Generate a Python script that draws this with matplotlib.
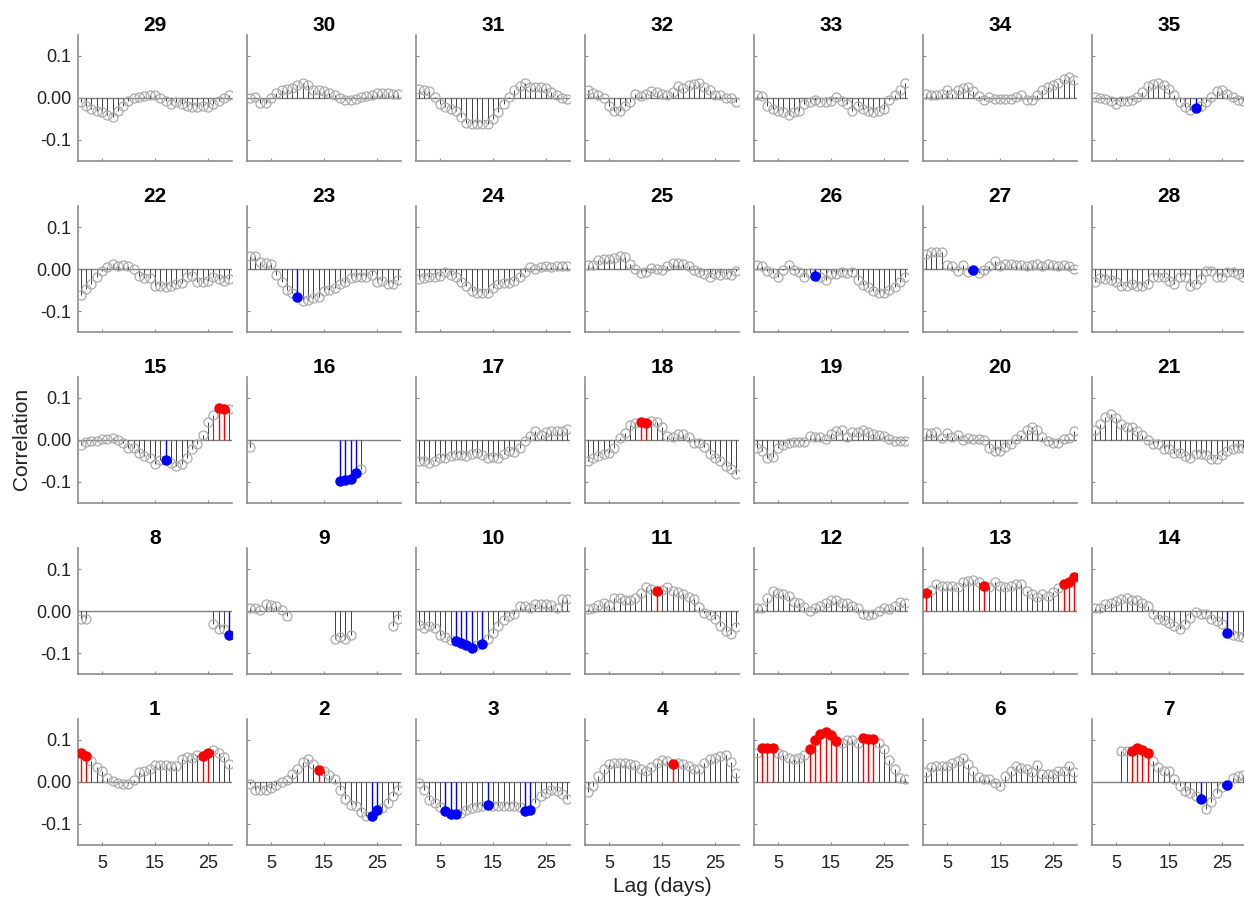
import numpy as np
import matplotlib
matplotlib.use("Agg")
import matplotlib.pyplot as plt

nan = np.nan
lags = list(range(1, 30))

# cross-correlation per panel, lags 1..29 (nan = not shown)
p1 = [0.07, 0.062, 0.05, 0.036, 0.027, 0.01, 0.002, -0.002, -0.004, -0.004, 0.004, 0.024, 0.027, 0.032, 0.04,
      0.04, 0.04, 0.037, 0.037, 0.054, 0.06, 0.056, 0.065, 0.063, 0.07, 0.076, 0.07, 0.06, 0.043]
p2 = [-0.005, -0.018, -0.018, -0.018, -0.014, -0.008, 0.0, 0.005, 0.018, 0.032, 0.047, 0.054, 0.043, 0.028, 0.027,
      0.016, 0.006, -0.02, -0.04, -0.054, -0.058, -0.072, -0.08, -0.08, -0.066, -0.062, -0.05, -0.034, -0.02]
p3 = [-0.003, -0.02, -0.042, -0.05, -0.06, -0.07, -0.077, -0.076, -0.074, -0.066, -0.062, -0.06, -0.058, -0.054,
      -0.056, -0.056, -0.057, -0.057, -0.058, -0.06, -0.068, -0.066, -0.05, -0.034, -0.026, -0.02, -0.022, -0.028, -0.04]
p4 = [-0.024, -0.01, 0.014, 0.03, 0.044, 0.046, 0.046, 0.046, 0.044, 0.04, 0.03, 0.026, 0.035, 0.046, 0.052,
      0.05, 0.042, 0.046, 0.044, 0.038, 0.032, 0.032, 0.046, 0.054, 0.058, 0.062, 0.064, 0.048, 0.022]
p5 = [0.07, 0.081, 0.081, 0.082, 0.07, 0.064, 0.058, 0.054, 0.056, 0.064, 0.078, 0.1, 0.114, 0.118, 0.112,
      0.098, 0.094, 0.1, 0.101, 0.094, 0.104, 0.102, 0.103, 0.094, 0.078, 0.052, 0.03, 0.01, 0.006]
p6 = [0.024, 0.036, 0.038, 0.038, 0.038, 0.046, 0.05, 0.058, 0.042, 0.027, 0.011, 0.008, 0.008, -0.002, -0.01,
      0.014, 0.027, 0.038, 0.034, 0.03, 0.024, 0.04, 0.018, 0.018, 0.019, 0.026, 0.027, 0.038, 0.024]
p7 = [nan, nan, nan, nan, nan, 0.074, 0.074, 0.075, 0.08, 0.076, 0.07, 0.05, 0.035, 0.027, 0.026,
      0.006, -0.01, -0.022, -0.026, -0.034, -0.04, -0.064, -0.048, -0.026, -0.013, -0.008, 0.01, 0.014, 0.016]
p8 = [-0.02, -0.018] + [nan] * 23 + [-0.03, -0.044, -0.044, -0.058]
p9 = [0.006, 0.008, 0.002, 0.016, 0.014, 0.012, 0.002, -0.012] + [nan] * 8 + \
     [-0.066, -0.062, -0.066, -0.058] + [nan] * 7 + [-0.036, -0.02]
p10 = [-0.034, -0.04, -0.036, -0.04, -0.056, -0.062, -0.068, -0.072, -0.076, -0.082, -0.089, -0.08, -0.078, -0.066,
       -0.052, -0.036, -0.022, -0.012, -0.008, 0.012, 0.012, 0.006, 0.016, 0.016, 0.016, 0.014, 0.008, 0.028, 0.028]
p11 = [0.004, 0.008, 0.014, 0.02, 0.014, 0.03, 0.03, 0.026, 0.026, 0.03, 0.042, 0.058, 0.052, 0.048, 0.05,
       0.056, 0.048, 0.046, 0.04, 0.034, 0.028, 0.01, -0.004, -0.01, -0.02, -0.036, -0.048, -0.055, -0.037]
p12 = [0.006, 0.006, 0.03, 0.048, 0.044, 0.04, 0.036, 0.022, 0.018, 0.01, 0.0, 0.006, 0.012, 0.018, 0.026,
       0.026, 0.018, 0.018, 0.012, 0.006, -0.008, -0.01, -0.008, 0.0, 0.008, 0.004, 0.012, 0.022, 0.02]
p13 = [0.042, 0.05, 0.064, 0.06, 0.06, 0.06, 0.058, 0.07, 0.072, 0.074, 0.068, 0.06, 0.058, 0.068, 0.06,
       0.056, 0.06, 0.064, 0.064, 0.048, 0.04, 0.034, 0.04, 0.036, 0.046, 0.054, 0.064, 0.07, 0.082]
p14 = [0.006, 0.006, 0.016, 0.02, 0.024, 0.028, 0.03, 0.026, 0.026, 0.02, 0.012, -0.008, -0.02, -0.022, -0.028,
       -0.036, -0.042, -0.032, -0.016, -0.002, -0.006, -0.008, -0.018, -0.024, -0.03, -0.052, -0.058, -0.06, -0.062]
p15 = [-0.012, -0.004, -0.003, -0.003, 0.002, 0.003, 0.005, 0.0, -0.008, -0.018, -0.02, -0.03, -0.038, -0.044,
       -0.056, -0.048, -0.047, -0.054, -0.062, -0.058, -0.042, -0.022, -0.009, 0.012, 0.044, 0.06, 0.077, 0.074, 0.074]
p16 = [-0.016] + [nan] * 16 + [-0.097, -0.095, -0.092, -0.079, -0.068] + [nan] * 7
p17 = [-0.05, -0.049, -0.054, -0.05, -0.044, -0.043, -0.038, -0.036, -0.036, -0.038, -0.034, -0.03, -0.036, -0.042,
       -0.04, -0.044, -0.034, -0.026, -0.028, -0.018, -0.002, 0.01, 0.022, 0.012, 0.02, 0.021, 0.021, 0.022, 0.026]
p18 = [-0.05, -0.044, -0.038, -0.034, -0.03, -0.02, 0.005, 0.016, 0.036, 0.04, 0.044, 0.04, 0.046, 0.043, 0.031,
       0.01, 0.006, 0.015, 0.015, 0.007, -0.006, -0.006, -0.017, -0.034, -0.044, -0.05, -0.062, -0.07, -0.08]
p19 = [-0.02, -0.025, -0.042, -0.041, -0.018, -0.012, -0.006, -0.004, -0.004, -0.004, 0.01, 0.006, 0.007, 0.002,
       0.015, 0.022, 0.025, 0.006, 0.02, 0.02, 0.025, 0.02, 0.015, 0.012, 0.01, 0.002, -0.002, -0.002, -0.002]
p20 = [0.017, 0.017, 0.02, 0.004, 0.017, 0.008, 0.012, -0.001, 0.004, 0.003, 0.003, 0.0, -0.02, -0.025, -0.025,
       -0.017, -0.009, 0.003, 0.012, 0.024, 0.032, 0.024, 0.008, -0.003, -0.006, -0.006, 0.003, 0.005, 0.022]
p21 = [0.025, 0.039, 0.055, 0.062, 0.053, 0.037, 0.031, 0.031, 0.021, 0.013, 0.0, -0.009, -0.009, -0.022, -0.022,
       -0.03, -0.03, -0.038, -0.042, -0.033, -0.033, -0.035, -0.046, -0.046, -0.035, -0.026, -0.022, -0.02, -0.018]
p22 = [-0.062, -0.048, -0.036, -0.018, -0.004, 0.004, 0.012, 0.008, 0.01, 0.008, 0.0, -0.016, -0.022, -0.022, -0.04,
       -0.04, -0.042, -0.04, -0.036, -0.034, -0.018, -0.016, -0.032, -0.032, -0.028, -0.02, -0.024, -0.028, -0.024]
p23 = [0.03, 0.03, 0.016, 0.014, 0.012, -0.014, -0.032, -0.05, -0.056, -0.066, -0.076, -0.074, -0.07, -0.066,
       -0.052, -0.05, -0.046, -0.036, -0.032, -0.022, -0.018, -0.018, -0.018, -0.014, -0.032, -0.028, -0.036, -0.036, -0.026]
p24 = [-0.024, -0.022, -0.02, -0.018, -0.016, -0.008, -0.014, -0.018, -0.032, -0.04, -0.052, -0.056, -0.056, -0.056,
       -0.046, -0.036, -0.034, -0.034, -0.028, -0.02, -0.006, 0.004, 0.0, 0.004, 0.007, 0.004, 0.007, 0.008, 0.007]
p25 = [0.01, 0.01, 0.022, 0.024, 0.024, 0.026, 0.03, 0.028, 0.012, 0.0, -0.01, -0.006, 0.002, 0.0, -0.002,
       0.006, 0.014, 0.014, 0.012, 0.008, -0.002, -0.008, -0.012, -0.018, -0.012, -0.014, -0.012, -0.014, -0.004]
p26 = [0.01, 0.008, -0.004, -0.01, -0.018, -0.002, 0.01, -0.002, -0.006, -0.018, -0.01, -0.016, -0.02, -0.026,
       -0.012, -0.012, -0.006, -0.01, -0.008, -0.026, -0.038, -0.044, -0.052, -0.056, -0.056, -0.05, -0.044, -0.032, -0.018]
p27 = [0.036, 0.04, 0.04, 0.04, 0.01, 0.006, -0.004, 0.01, -0.008, -0.002, -0.01, -0.002, 0.008, 0.02, 0.008,
       0.012, 0.012, 0.01, 0.01, 0.008, 0.01, 0.012, 0.008, 0.012, 0.01, 0.008, 0.01, 0.008, 0.0]
p28 = [-0.032, -0.022, -0.024, -0.026, -0.03, -0.04, -0.04, -0.036, -0.04, -0.04, -0.036, -0.02, -0.02, -0.02,
       -0.028, -0.036, -0.02, -0.02, -0.04, -0.036, -0.024, -0.004, -0.004, -0.02, -0.02, -0.006, -0.008, -0.012, -0.02]
p29 = [-0.01, -0.02, -0.025, -0.03, -0.033, -0.04, -0.045, -0.03, -0.018, -0.008, 0.0, 0.003, 0.005, 0.008, 0.006,
       0.0, -0.008, -0.014, -0.01, -0.014, -0.018, -0.022, -0.022, -0.018, -0.022, -0.014, -0.006, 0.0, 0.006]
p30 = [0.0, 0.002, -0.012, -0.012, 0.0, 0.012, 0.02, 0.022, 0.024, 0.032, 0.035, 0.032, 0.02, 0.018, 0.016,
       0.012, 0.008, 0.0, -0.005, -0.005, -0.002, 0.003, 0.005, 0.008, 0.012, 0.013, 0.012, 0.01, 0.01]
p31 = [0.022, 0.02, 0.017, 0.003, -0.015, -0.022, -0.026, -0.03, -0.046, -0.06, -0.062, -0.062, -0.062, -0.062,
       -0.05, -0.034, -0.015, 0.003, 0.02, 0.028, 0.036, 0.026, 0.025, 0.025, 0.024, 0.015, 0.006, 0.0, -0.002]
p32 = [0.02, 0.012, 0.008, 0.0, -0.018, -0.032, -0.032, -0.02, -0.01, 0.01, 0.004, 0.009, 0.016, 0.015, 0.009,
       0.007, 0.015, 0.028, 0.024, 0.03, 0.033, 0.036, 0.025, 0.018, 0.008, 0.006, 0.001, 0.001, -0.01]
p33 = [0.008, 0.004, -0.02, -0.026, -0.03, -0.034, -0.04, -0.034, -0.032, -0.015, -0.01, -0.004, -0.01, -0.01,
       -0.006, 0.002, -0.006, -0.014, -0.03, -0.02, -0.026, -0.032, -0.034, -0.03, -0.026, -0.004, 0.006, 0.02, 0.036]
p34 = [0.01, 0.008, 0.008, 0.01, 0.02, 0.01, 0.018, 0.023, 0.027, 0.017, 0.004, -0.004, 0.002, -0.003, -0.003,
       -0.003, -0.002, 0.002, 0.008, -0.004, -0.004, 0.006, 0.018, 0.025, 0.031, 0.036, 0.046, 0.05, 0.043]
p35 = [0.002, 0.0, -0.003, -0.008, -0.015, -0.006, -0.006, -0.005, 0.002, 0.015, 0.028, 0.034, 0.036, 0.03, 0.022,
       0.006, -0.01, -0.022, -0.028, -0.024, -0.018, -0.01, 0.002, 0.016, 0.02, 0.01, 0.002, -0.005, -0.006]

series = [p1, p2, p3, p4, p5, p6, p7, p8, p9, p10, p11, p12, p13, p14, p15, p16, p17, p18,
          p19, p20, p21, p22, p23, p24, p25, p26, p27, p28, p29, p30, p31, p32, p33, p34, p35]

# significant lags, by panel number
red_lags = {1: [1, 2, 24, 25], 2: [14], 4: [17], 5: [2, 3, 4, 11, 12, 13, 14, 15, 16, 21, 22, 23],
            7: [8, 9, 10, 11], 11: [14], 13: [1, 12, 27, 28, 29], 15: [27, 28], 18: [11, 12]}
blue_lags = {2: [24, 25], 3: [6, 7, 8, 14, 21, 22], 7: [21, 26], 8: [29], 10: [8, 9, 10, 11, 13],
             14: [26], 15: [17], 16: [18, 19, 20, 21], 23: [10], 26: [12], 27: [10], 35: [20]}

x_ticks = [5, 15, 25]
y_ticks = [-0.1, 0.0, 0.1]
y_tick_labels = ["-0.1", "0.00", "0.1"]

plt.rcParams["font.family"] = ["Liberation Sans", "DejaVu Sans"]

W, H = 1244, 899
fig = plt.figure(figsize=(W / 100, H / 100), dpi=100)

x = np.array(lags)
for n, vals in enumerate(series, start=1):
    row = 4 - (n - 1) // 7
    col = (n - 1) % 7
    ax = fig.add_axes([(78 + 169 * col) / W, 1 - (161 + 171 * row) / H, 154 / W, 126 / H])

    y = np.array(vals, dtype=float)
    ok = ~np.isnan(y)
    is_red = np.isin(x, red_lags.get(n, []))
    is_blue = np.isin(x, blue_lags.get(n, []))
    plain = ok & ~is_red & ~is_blue

    ax.axhline(0, color="#7f7f7f", lw=1.0, zorder=1)
    ax.vlines(x[plain], 0, y[plain], color="#404040", lw=0.7, zorder=2)
    ax.plot(x[plain], y[plain], "o", ms=6.5, mfc="none", mec="#ababab", mew=0.9, zorder=3)
    for mask, c in ((is_red, "#ff0000"), (is_blue, "#0000ff")):
        ax.vlines(x[mask], 0, y[mask], color=c, lw=1.0, zorder=4)
        ax.plot(x[mask], y[mask], "o", ms=6.5, color=c, mec=c, zorder=5)

    ax.set_xlim(0.5, 29.5)
    ax.set_ylim(-0.15, 0.15)
    ax.set_title(str(n), fontsize=15, fontweight="bold", pad=3)

    for s in ("top", "right"):
        ax.spines[s].set_visible(False)
    for s in ("left", "bottom"):
        ax.spines[s].set_color("#8c8c8c")
        ax.spines[s].set_linewidth(1.2)

    ax.set_xticks(x_ticks)
    ax.set_yticks(y_ticks)
    ax.tick_params(direction="in", length=2.5, width=0.8, color="#8c8c8c", labelsize=13, labelcolor="#222222")
    ax.tick_params(axis="y", pad=5)
    ax.tick_params(axis="x", pad=7)
    if col == 0:
        ax.set_yticklabels(y_tick_labels)
    else:
        ax.set_yticklabels([])
    if row != 4:
        ax.set_xticklabels([])

fig.text(22 / W, 1 - 439 / H, "Correlation", rotation=90, ha="center", va="center", fontsize=15, color="#222222")
fig.text(662 / W, 1 - 886 / H, "Lag (days)", ha="center", va="center", fontsize=15, color="#222222")

fig.savefig("out.png", dpi=100)
